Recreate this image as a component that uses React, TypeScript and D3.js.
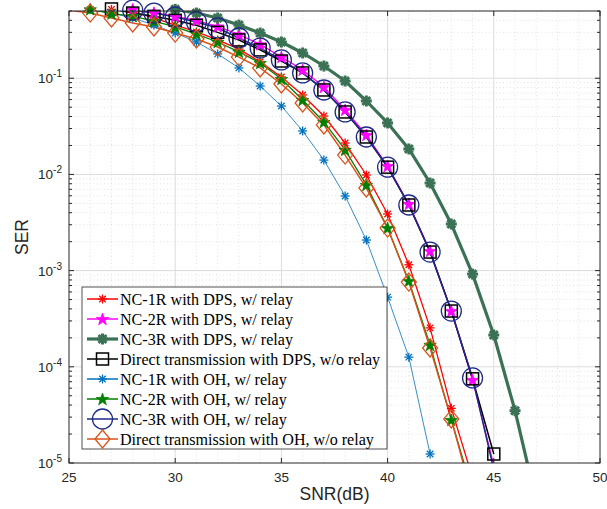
import React from 'react';
import * as d3 from 'd3';

// ---------- data ----------
const snrA = [25, 26, 27, 28, 29, 30, 31, 32, 33, 34, 35, 36, 37, 38, 39, 40, 41, 42, 43, 44];
const snrB = [25, 26, 27, 28, 29, 30, 31, 32, 33, 34, 35, 36, 37, 38, 39, 40, 41, 42, 43, 44, 45];
const snrC = [25, 26, 27, 28, 29, 30, 31, 32, 33, 34, 35, 36, 37, 38, 39, 40, 41, 42, 43, 44, 45, 46, 47];
const snrD = [25, 26, 27, 28, 29, 30, 31, 32, 33, 34, 35, 36, 37, 38, 39, 40, 41, 42];

const nc1rDps = [0.6, 0.56, 0.52, 0.489, 0.423, 0.357, 0.303, 0.25, 0.201, 0.148, 0.103, 0.067, 0.0405, 0.0212, 0.00986, 0.00388, 0.00115, 2.54e-4, 3.7e-5, 7e-6];
const nc2rDps = [0.62, 0.58, 0.54, 0.52, 0.48, 0.44, 0.4, 0.345, 0.285, 0.225, 0.166, 0.122, 0.0811, 0.0468, 0.0257, 0.0122, 0.00493, 0.0016, 3.8e-4, 7.3e-5, 9.4e-6];
const nc3rDps = [0.7, 0.66, 0.62, 0.58, 0.55, 0.52, 0.476, 0.423, 0.357, 0.295, 0.238, 0.183, 0.134, 0.0935, 0.058, 0.0343, 0.0184, 0.00814, 0.00305, 9.2e-4, 2.14e-4, 3.5e-5, 4e-6];
const directDps = [0.6, 0.56, 0.525, 0.476, 0.44, 0.4, 0.355, 0.3, 0.25, 0.197, 0.151, 0.1135, 0.0755, 0.0446, 0.0245, 0.0119, 0.00481, 0.00156, 3.8e-4, 7.5e-5, 1.24e-5];
const nc1rOh = [0.56, 0.52, 0.476, 0.423, 0.357, 0.295, 0.238, 0.179, 0.128, 0.083, 0.0514, 0.0283, 0.0141, 0.00597, 0.00208, 5.3e-4, 1.26e-4, 1.24e-5];
const nc2rOh = [0.56, 0.52, 0.47, 0.443, 0.393, 0.341, 0.288, 0.238, 0.188, 0.144, 0.0982, 0.0594, 0.0351, 0.018, 0.00776, 0.00277, 7.8e-4, 1.69e-4, 2.8e-5, 5e-6];
const nc3rOh = [0.62, 0.58, 0.54, 0.51, 0.476, 0.433, 0.385, 0.333, 0.262, 0.206, 0.155, 0.1135, 0.0755, 0.0446, 0.0245, 0.0119, 0.00481, 0.00156, 3.8e-4, 7.66e-5, 8.5e-6];
const directOh = [0.51, 0.476, 0.423, 0.375, 0.341, 0.295, 0.256, 0.211, 0.166, 0.128, 0.0871, 0.0553, 0.0327, 0.0159, 0.00722, 0.00277, 7.6e-4, 1.57e-4, 2.87e-5, 4.3e-6];

const seriesNames = [
  'NC-1R with DPS, w/ relay',
  'NC-2R with DPS, w/ relay',
  'NC-3R with DPS, w/ relay',
  'Direct transmission with DPS, w/o relay',
  'NC-1R with OH, w/ relay',
  'NC-2R with OH, w/ relay',
  'NC-3R with OH, w/ relay',
  'Direct transmission with OH, w/o relay',
];

const xTicks = [25, 30, 35, 40, 45, 50];
const yTickExps = [-5, -4, -3, -2, -1];

type Marker = 'asterisk' | 'pentagram' | 'square' | 'circle' | 'diamond' | 'thickAsterisk';
interface Style { color: string; width: number; marker: Marker; }

const styles: Style[] = [
  { color: '#ff0000', width: 1.3, marker: 'asterisk' },
  { color: '#ff00ff', width: 1.3, marker: 'pentagram' },
  { color: '#3b7256', width: 3.2, marker: 'thickAsterisk' },
  { color: '#000000', width: 1.5, marker: 'square' },
  { color: '#0072bd', width: 0.8, marker: 'asterisk' },
  { color: '#008000', width: 1.3, marker: 'pentagram' },
  { color: '#1f2a88', width: 1.5, marker: 'circle' },
  { color: '#d95319', width: 1.5, marker: 'diamond' },
];

const seriesX = [snrA, snrB, snrC, snrB, snrD, snrA, snrB, snrA];
const seriesY = [nc1rDps, nc2rDps, nc3rDps, directDps, nc1rOh, nc2rOh, nc3rOh, directOh];

// ---------- layout ----------
const W = 607, H = 509;
const L = 69, R = 600, T = 11, B = 463;

function starPath(cx: number, cy: number, r: number) {
  const pts: string[] = [];
  for (let i = 0; i < 10; i++) {
    const rr = i % 2 === 0 ? r : r * 0.4;
    const a = -Math.PI / 2 + (i * Math.PI) / 5;
    pts.push(`${(cx + rr * Math.cos(a)).toFixed(2)},${(cy + rr * Math.sin(a)).toFixed(2)}`);
  }
  return 'M' + pts.join('L') + 'Z';
}

function renderMarker(m: Marker, x: number, y: number, color: string, key: string) {
  switch (m) {
    case 'asterisk': {
      const s = 4.5, d = s * 0.72;
      return (
        <g key={key} stroke={color} strokeWidth={1.3}>
          <line x1={x - s} y1={y} x2={x + s} y2={y} />
          <line x1={x} y1={y - s} x2={x} y2={y + s} />
          <line x1={x - d} y1={y - d} x2={x + d} y2={y + d} />
          <line x1={x - d} y1={y + d} x2={x + d} y2={y - d} />
        </g>
      );
    }
    case 'thickAsterisk': {
      const s = 5.5, d = s * 0.72;
      return (
        <g key={key} stroke={color} strokeWidth={3}>
          <line x1={x - s} y1={y} x2={x + s} y2={y} />
          <line x1={x} y1={y - s} x2={x} y2={y + s} />
          <line x1={x - d} y1={y - d} x2={x + d} y2={y + d} />
          <line x1={x - d} y1={y + d} x2={x + d} y2={y - d} />
        </g>
      );
    }
    case 'pentagram':
      return <path key={key} d={starPath(x, y + 0.5, 6.5)} fill={color} stroke={color} strokeWidth={0.8} />;
    case 'square':
      return <rect key={key} x={x - 6} y={y - 6} width={12} height={12} fill="none" stroke={color} strokeWidth={1.5} />;
    case 'circle':
      return <circle key={key} cx={x} cy={y} r={10} fill="none" stroke={color} strokeWidth={1.3} />;
    case 'diamond':
      return <path key={key} d={`M${x},${y - 9}L${x + 7.5},${y}L${x},${y + 9}L${x - 7.5},${y}Z`} fill="none" stroke={color} strokeWidth={1.3} />;
  }
}

export default function App() {
  const x = d3.scaleLinear().domain([25, 50]).range([L, R]);
  const y = d3.scaleLog().domain([1e-5, 0.5]).range([B, T]);

  const axisColor = '#262626';
  const gridMajor = '#dcdcdc';
  const gridMinor = '#d0d0d0';

  const minorY: number[] = [];
  for (let e = -5; e <= -1; e++) {
    for (let k = 2; k <= 9; k++) {
      const v = k * Math.pow(10, e);
      if (v <= 0.5) minorY.push(v);
    }
  }
  const minorX = d3.range(26, 50).filter((v) => v % 5 !== 0);

  const line = d3.line<[number, number]>().x((d) => x(d[0])).y((d) => y(d[1]));

  const fontSans = 'Liberation Sans, Arial, Helvetica, sans-serif';
  const fontSerif = 'Liberation Serif, Times New Roman, serif';

  // legend
  const lgX = 82, lgY = 287, lgW = 305, lgH = 162;

  return (
    <svg width={W} height={H} style={{ position: 'absolute', left: 0, top: 0, background: '#fff' }}>
      <defs>
        <clipPath id="plotclip">
          <rect x={L} y={T} width={R - L} height={B - T} />
        </clipPath>
      </defs>
      <rect x={0} y={0} width={W} height={H} fill="#fff" />
      {/* minor grid */}
      <g stroke={gridMinor} strokeWidth={0.6} strokeDasharray="1,2.5">
        {minorX.map((v) => (
          <line key={'mx' + v} x1={x(v)} x2={x(v)} y1={T} y2={B} />
        ))}
        {minorY.map((v, i) => (
          <line key={'my' + i} x1={L} x2={R} y1={y(v)} y2={y(v)} />
        ))}
      </g>
      {/* major grid */}
      <g stroke={gridMajor} strokeWidth={1}>
        {xTicks.slice(1, -1).map((v) => (
          <line key={'gx' + v} x1={x(v)} x2={x(v)} y1={T} y2={B} />
        ))}
        {yTickExps.slice(1).map((e) => (
          <line key={'gy' + e} x1={L} x2={R} y1={y(Math.pow(10, e))} y2={y(Math.pow(10, e))} />
        ))}
      </g>

      {/* series lines */}
      <g clipPath="url(#plotclip)" fill="none">
        {seriesY.map((ys, si) => {
          const pts = ys.map((v, i) => [seriesX[si][i], v] as [number, number]);
          return (
            <path key={'l' + si} d={line(pts) || ''} stroke={styles[si].color} strokeWidth={styles[si].width} strokeLinejoin="round" />
          );
        })}
      </g>
      {/* series markers */}
      <g>
        {seriesY.map((ys, si) => (
          <g key={'m' + si}>
            {ys.map((v, i) => {
              const sx = seriesX[si][i];
              if (sx <= 25 || v > 0.53 || v < 1e-5) return null;
              return renderMarker(styles[si].marker, x(sx), y(v), styles[si].color, `m${si}-${i}`);
            })}
          </g>
        ))}
      </g>

      {/* axes box */}
      <rect x={L} y={T} width={R - L} height={B - T} fill="none" stroke={axisColor} strokeWidth={1} />
      {/* ticks */}
      <g stroke={axisColor} strokeWidth={1}>
        {xTicks.map((v) => (
          <g key={'xt' + v}>
            <line x1={x(v)} x2={x(v)} y1={B} y2={B - 5} />
            <line x1={x(v)} x2={x(v)} y1={T} y2={T + 5} />
          </g>
        ))}
        {yTickExps.map((e) => (
          <g key={'yt' + e}>
            <line x1={L} x2={L + 5} y1={y(Math.pow(10, e))} y2={y(Math.pow(10, e))} />
            <line x1={R} x2={R - 5} y1={y(Math.pow(10, e))} y2={y(Math.pow(10, e))} />
          </g>
        ))}
        {minorY.map((v, i) => (
          <g key={'ymt' + i}>
            <line x1={L} x2={L + 3} y1={y(v)} y2={y(v)} />
            <line x1={R} x2={R - 3} y1={y(v)} y2={y(v)} />
          </g>
        ))}
      </g>
      {/* tick labels */}
      <g fontFamily={fontSans} fontSize={13.5} fill={axisColor}>
        {xTicks.map((v) => (
          <text key={'xl' + v} x={x(v)} y={B + 19} textAnchor="middle">{v}</text>
        ))}
        {yTickExps.map((e) => (
          <text key={'yl' + e} x={L - 7} y={y(Math.pow(10, e)) + 5} textAnchor="end">
            10<tspan dy={-6} fontSize={10}>{e}</tspan>
          </text>
        ))}
      </g>
      {/* axis titles */}
      <text x={(L + R) / 2} y={500} textAnchor="middle" fontFamily={fontSans} fontSize={17.5} fill={axisColor}>SNR(dB)</text>
      <text transform={`translate(28,${(T + B) / 2}) rotate(-90)`} textAnchor="middle" fontFamily={fontSans} fontSize={17.5} fill={axisColor}>SER</text>

      {/* legend */}
      <g>
        <rect x={lgX} y={lgY} width={lgW} height={lgH} fill="#fff" stroke="#262626" strokeWidth={0.8} />
        {seriesNames.map((name, i) => {
          const cy = lgY + 12 + i * 20;
          const st = styles[i];
          return (
            <g key={'lg' + i}>
              <line x1={lgX + 5} x2={lgX + 36} y1={cy} y2={cy} stroke={st.color} strokeWidth={Math.max(st.width, 1.5)} />
              {renderMarker(st.marker, lgX + 20.5, cy, st.color, 'lgm' + i)}
              <text x={lgX + 38} y={cy + 5.5} fontFamily={fontSerif} fontSize={16.1} fill="#000">{name}</text>
            </g>
          );
        })}
      </g>
    </svg>
  );
}
